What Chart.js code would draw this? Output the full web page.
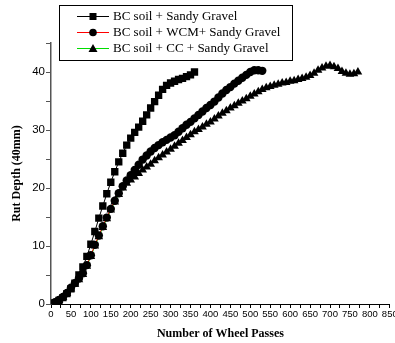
<!DOCTYPE html>
<html>
<head>
<meta charset="utf-8">
<script src="https://cdn.jsdelivr.net/npm/chart.js@4/dist/chart.umd.min.js"></script>
<style>
  body { margin: 0; background: #fff; }
  canvas { display: block; }
</style>
</head>
<body>
<canvas id="rut-chart" width="395" height="343"></canvas>
<script>
// wheel passes (x) and rut depth (y) for each mix
var seriesNames = ["BC soil + Sandy Gravel", "BC soil + WCM+ Sandy Gravel", "BC soil + CC + Sandy Gravel"];

var passesSG = [0,10,20,30,40,50,60,70,80,90,100,110,120,130,140,150,160,170,180,190,200,210,220,230,240,250,260,270,280,290,300,310,320,330,340,350,360];
var rutSG = [0,0.2,0.6,1.1,1.8,2.6,3.6,5.0,6.4,8.2,10.3,12.5,14.8,16.9,19.0,21.0,22.8,24.5,26.0,27.4,28.6,29.6,30.5,31.5,32.6,33.8,34.9,36.0,37.0,37.7,38.1,38.4,38.7,38.9,39.2,39.5,40.0];

var passesWCM = [0,10,20,30,40,50,60,70,80,90,100,110,120,130,140,150,160,170,180,190,200,210,220,230,240,250,260,270,280,290,300,310,320,330,340,350,360,370,380,390,400,410,420,430,440,450,460,470,480,490,500,510,520,530];
var rutWCM = [0,0.3,0.7,1.2,1.9,2.8,3.6,4.4,5.3,6.7,8.4,10.2,11.8,13.4,14.9,16.4,17.8,19.1,20.3,21.3,22.2,23.1,24.0,24.9,25.6,26.3,26.9,27.4,27.9,28.3,28.7,29.1,29.7,30.3,30.9,31.4,32.0,32.6,33.2,33.8,34.3,34.9,35.6,36.3,36.9,37.4,38.0,38.5,39.0,39.5,40.0,40.3,40.3,40.2];

var passesCC = [0,10,20,30,40,50,60,70,80,90,100,110,120,130,140,150,160,170,180,190,200,210,220,230,240,250,260,270,280,290,300,310,320,330,340,350,360,370,380,390,400,410,420,430,440,450,460,470,480,490,500,510,520,530,540,550,560,570,580,590,600,610,620,630,640,650,660,670,680,690,700,710,720,730,740,750,760,770];
var rutCC = [0,0.2,0.6,1.1,1.8,2.6,3.4,4.2,5.1,6.5,8.2,10.0,11.6,13.2,14.7,16.2,17.6,18.9,20.0,20.8,21.4,21.9,22.5,23.1,23.6,24.1,24.7,25.2,25.7,26.2,26.7,27.2,27.7,28.2,28.7,29.2,29.7,30.1,30.5,31.0,31.4,31.9,32.4,32.9,33.3,33.8,34.2,34.6,35.0,35.4,35.8,36.2,36.6,37.0,37.3,37.5,37.7,37.9,38.1,38.2,38.4,38.5,38.7,38.9,39.1,39.4,39.8,40.3,40.7,41.0,41.1,40.9,40.6,40.1,39.8,39.6,39.7,40.0];

var lineColors = ["#000000", "#ff0000", "#00dd00"];
var markers = ["rect", "circle", "triangle"];
var markerSizes = [5.2, 4.2, 5.0];

function toPoints(xs, ys) {
    return xs.map(function(x, i) { return {x: x, y: ys[i]}; });
}

var allX = [passesSG, passesWCM, passesCC];
var allY = [rutSG, rutWCM, rutCC];
var datasets = [];
for (var i = 0; i < 3; i++) {
    datasets.push({
        label: seriesNames[i],
        data: toPoints(allX[i], allY[i]),
        borderColor: lineColors[i],
        borderWidth: 1,
        backgroundColor: "#000",
        pointBackgroundColor: "#000",
        pointBorderColor: "#000",
        pointBorderWidth: 0,
        pointStyle: markers[i],
        pointRadius: markerSizes[i],
        tension: 0
    });
}

// boxed legend drawn inside the plot, like the original figure
var boxLegend = {
    id: "boxLegend",
    afterDraw: function(chart) {
        var c = chart.ctx;
        c.save();
        c.fillStyle = "#fff";
        c.fillRect(59.5, 5.5, 233, 55);
        c.strokeStyle = "#000";
        c.lineWidth = 1;
        c.strokeRect(59.5, 5.5, 233, 55);
        c.font = "13px 'Liberation Serif', 'Times New Roman', serif";
        c.textBaseline = "middle";
        chart.data.datasets.forEach(function(ds, k) {
            var y = 16 + k * 16;
            c.strokeStyle = ds.borderColor;
            c.beginPath();
            c.moveTo(77, y + 0.5);
            c.lineTo(109, y + 0.5);
            c.stroke();
            c.fillStyle = "#000";
            c.beginPath();
            if (ds.pointStyle == "rect") {
                c.rect(89.5, y - 3, 7, 7);
            } else if (ds.pointStyle == "circle") {
                c.arc(93, y + 0.5, 3.8, 0, Math.PI * 2);
            } else {
                c.moveTo(93, y - 4);
                c.lineTo(97.5, y + 4);
                c.lineTo(88.5, y + 4);
                c.closePath();
            }
            c.fill();
            c.fillStyle = "#000";
            c.fillText(ds.label, 113, y + 1);
        });
        c.restore();
    }
};

var ctx = document.getElementById("rut-chart").getContext("2d");
new Chart(ctx, {
    type: "line",
    data: { datasets: datasets },
    plugins: [boxLegend],
    options: {
        responsive: false,
        animation: false,
        layout: { padding: { top: 43, right: 5, left: 0, bottom: 0 } },
        plugins: {
            legend: { display: false },
            tooltip: { enabled: false }
        },
        scales: {
            x: {
                type: "linear",
                min: 0,
                max: 850,
                ticks: {
                    stepSize: 25,
                    autoSkip: false,
                    maxRotation: 0,
                    padding: 1,
                    color: "#000",
                    font: { family: "'Liberation Sans', Arial", size: 9.5 },
                    callback: function(v) { return v % 50 === 0 ? v : ""; }
                },
                grid: { drawOnChartArea: false, tickLength: 4, color: "#000" },
                border: { color: "#000", width: 1 },
                title: {
                    display: true,
                    text: "Number of Wheel Passes",
                    color: "#000",
                    font: { family: "'Liberation Serif', 'Times New Roman', serif", size: 12, weight: "bold" },
                    padding: { top: 0, bottom: 2 }
                },
                afterFit: function(s) { s.height = 39; s.paddingRight = 0; s.paddingLeft = 0; }
            },
            y: {
                min: 0,
                max: 45,
                ticks: {
                    stepSize: 5,
                    padding: 1,
                    color: "#000",
                    font: { family: "'Liberation Sans', Arial", size: 11.5 },
                    callback: function(v) { return v % 10 === 0 ? v : ""; }
                },
                grid: { drawOnChartArea: false, tickLength: 5, color: "#555" },
                border: { color: "#555", width: 1.5 },
                title: {
                    display: true,
                    text: "Rut Depth (40mm)",
                    color: "#000",
                    font: { family: "'Liberation Serif', 'Times New Roman', serif", size: 12, weight: "bold" },
                    padding: { top: 10, bottom: 0 }
                },
                afterFit: function(s) { s.width = 51; s.paddingTop = 0; s.paddingBottom = 0; }
            }
        }
    }
});
</script>
</body>
</html>
